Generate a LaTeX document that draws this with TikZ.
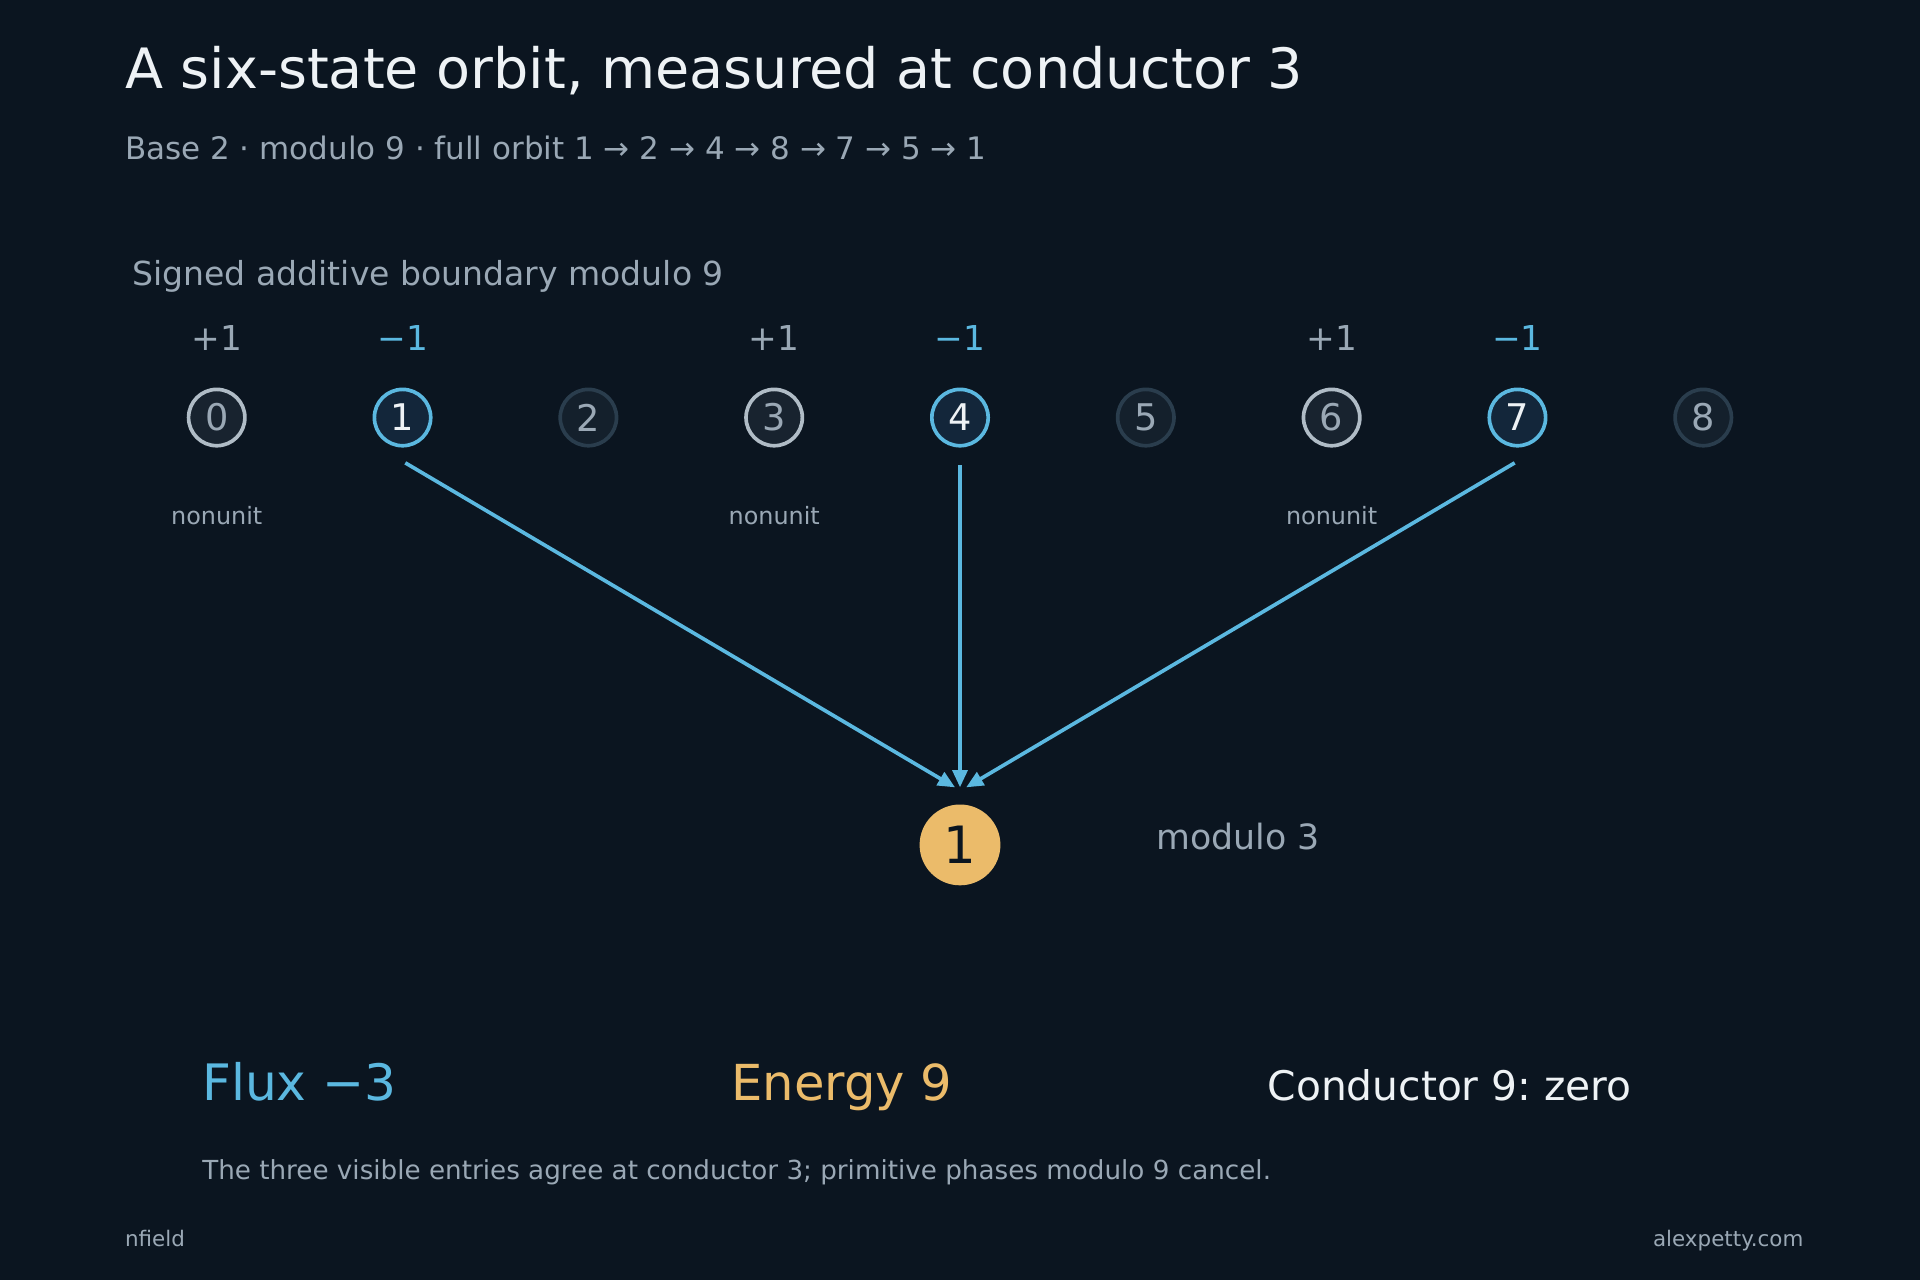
\documentclass[tikz,border=0pt]{standalone}
\usepackage{fontspec}
\setmainfont{DejaVu Sans}
\usetikzlibrary{arrows.meta}
\definecolor{bg}{HTML}{0B1520}
\definecolor{gr}{HTML}{9AA8B5}
\definecolor{wh}{HTML}{EEF2F5}
\definecolor{bl}{HTML}{5BB8E0}
\definecolor{og}{HTML}{EBBB6A}
\definecolor{lg}{HTML}{B0BCC6}
\definecolor{dk}{HTML}{2A3D4D}
\definecolor{f1}{HTML}{18232F}
\definecolor{f2}{HTML}{13263A}
\definecolor{f3}{HTML}{14202C}
\newcommand{\fs}[1]{\fontsize{#1}{#1}\selectfont}
\frenchspacing
\begin{document}
\begin{tikzpicture}[x=1pt,y=-1pt,
 txt/.style={inner sep=0pt,anchor=base west},
 st/.style={circle,minimum size=46pt,inner sep=0pt,line width=3pt,font=\fs{30}},
 nu/.style={st,draw=lg,fill=f1,text=gr},
 un/.style={st,draw=bl,fill=f2,text=wh},
 no/.style={st,draw=dk,fill=f3,text=gr},
 ar/.style={bl,line width=3pt,-{Triangle[length=14pt,width=12pt]}}]
\useasboundingbox[fill=bg] (0,0) rectangle (1568,1045);
\node[txt,text=wh,font=\fs{45.4}] (t) at (102,72) {A six-state orbit, measured at conductor 3};
\node[txt,text=gr,font=\fs{25.3}] (s) at (102,130) {Base 2 · modulo 9 · full orbit 1 → 2 → 4 → 8 → 7 → 5 → 1};
\node[txt,text=gr,font=\fs{27}] (h) at (108,233) {Signed additive boundary modulo 9};
\foreach \i/\s in {0/nu,1/un,2/no,3/nu,4/un,5/no,6/nu,7/un,8/no}{
  \node[\s] (n\i) at ({177+151.75*\i},341) {\i};}
\foreach \i in {0,3,6}{
  \node[text=gr,font=\fs{28},anchor=base] (p\i) at ({177+151.75*\i},286) {+1};
  \node[text=gr,font=\fs{19.5},anchor=base] (u\i) at ({177+151.75*\i},428) {nonunit};}
\foreach \i in {1,4,7}{
  \node[text=bl,font=\fs{28},anchor=base] (m\i) at ({177+151.75*\i},286) {−1};}
\node[circle,fill=og,minimum size=66pt,inner sep=0pt,text=bg,font=\fs{42}] (c) at (784,690) {1};
\coordinate (e1) at (780,643);
\coordinate (e4) at (784,643);
\coordinate (e7) at (789,643);
\draw[ar] (331,378) -- (e1);
\draw[ar] (784,380) -- (e4);
\draw[ar] (1237,378) -- (e7);
\node[txt,text=gr,font=\fs{28.4}] (m3) at (944,694) {modulo 3};
\node[txt,text=bl,font=\fs{41}] (f) at (165,899) {Flux −3};
\node[txt,text=og,font=\fs{40.5}] (en) at (597,899) {Energy 9};
\node[txt,text=wh,font=\fs{33.3}] (co) at (1035,899) {Conductor 9: zero};
\node[txt,text=gr,font=\fs{21.4}] (fn) at (165,963) {The three visible entries agree at conductor 3; primitive phases modulo 9 cancel.};
\node[txt,text=gr,font=\fs{17.5}] (nf) at (102,1018) {nfield};
\node[inner sep=0pt,anchor=base east,text=gr,font=\fs{17.5}] (ap) at (1473,1018) {alexpetty.com};
\end{tikzpicture}
\end{document}
